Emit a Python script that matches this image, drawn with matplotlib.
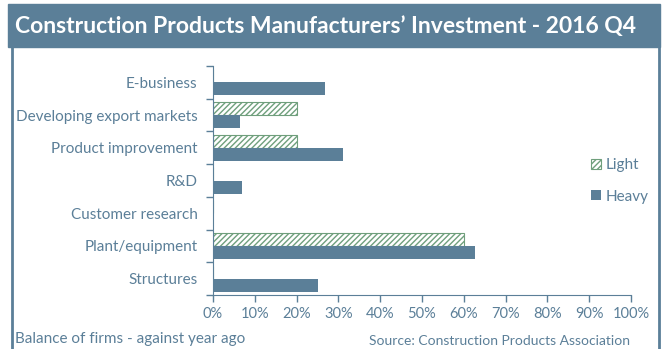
import numpy as np
import matplotlib.pyplot as plt
from matplotlib.patches import Rectangle
from matplotlib.lines import Line2D

categories = [
    "E-business",
    "Developing export markets",
    "Product improvement",
    "R&D",
    "Customer research",
    "Plant/equipment",
    "Structures",
]
light = [0, 20.2, 20.2, 0, 0, 60.0, 0]
heavy = [26.8, 6.5, 31.2, 6.9, 0, 62.6, 25.2]
xticks = np.arange(0, 101, 10)

slate = "#5b7f98"
green = "#6f9f7c"

plt.rcParams["font.family"] = ["Lato", "DejaVu Sans"]
plt.rcParams["hatch.color"] = green
plt.rcParams["hatch.linewidth"] = 1.0

fig = plt.figure(figsize=(6.62, 3.49), dpi=100)
W, H = 662, 349

# header band and side rules
fig.patches.append(Rectangle((8 / W, 1 - 47 / H), 652 / W, 43 / H,
                             transform=fig.transFigure, color=slate, zorder=0))
fig.lines.append(Line2D([12 / W, 12 / W], [0, 1 - 47 / H], transform=fig.transFigure,
                        color=slate, lw=2))
fig.lines.append(Line2D([659 / W, 659 / W], [0, 1 - 47 / H], transform=fig.transFigure,
                        color=slate, lw=2))
fig.text(15 / W, 1 - 26 / H, "Construction Products Manufacturers\u2019 Investment - 2016 Q4",
         color="white", fontsize=16.5, fontweight="bold", va="center", ha="left")

ax = fig.add_axes([213 / W, 54 / H, 418 / W, 229 / H])
y = np.arange(len(categories))
ax.barh(y - 0.2, light, height=0.4, color="white", edgecolor=green, hatch="//////",
        linewidth=0.8, label="Light")
ax.barh(y + 0.2, heavy, height=0.4, color=slate, label="Heavy")

ax.set_ylim(len(categories) - 0.5, -0.5)
ax.set_xlim(0, 100)
ax.set_xticks(xticks)
ax.set_xticklabels([f"{v}%" for v in xticks])
ax.set_yticks(y)
ax.set_yticklabels(categories)
ax.set_yticks(np.arange(-0.5, len(categories)), minor=True)
ax.tick_params(axis="y", which="major", length=0, pad=11, labelsize=11, labelcolor=slate)
ax.tick_params(axis="y", which="minor", length=5, color=slate, width=1)
ax.tick_params(axis="x", length=5, color=slate, width=1, labelsize=10.5, labelcolor=slate, pad=4)
for s in ["top", "right"]:
    ax.spines[s].set_visible(False)
for s in ["left", "bottom"]:
    ax.spines[s].set_color(slate)

leg = ax.legend(loc="center left", bbox_to_anchor=(0.905, 0.498), frameon=False,
                fontsize=11, handlelength=0.65, handleheight=0.65, handletextpad=0.3,
                labelspacing=1.15, labelcolor=slate, borderpad=0, borderaxespad=0)

fig.text(15 / W, 1 - 339 / H, "Balance of firms - against year ago", color=slate,
         fontsize=11, va="center", ha="left")
fig.text(630 / W, 1 - 341 / H, "Source: Construction Products Association", color=slate,
         fontsize=10, va="center", ha="right")

fig.savefig("out.png", dpi=100)
